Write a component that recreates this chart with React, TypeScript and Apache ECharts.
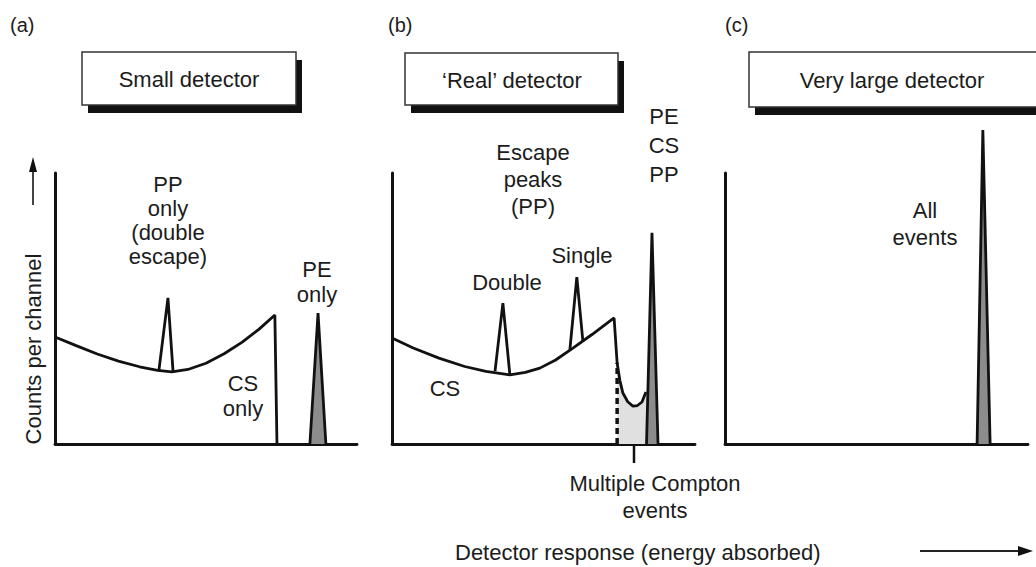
import React, { useEffect, useRef } from "react";
import * as echarts from "echarts";

// ---- Panel (a): small detector ----
const aCompton = [[0, 39.5], [7, 36.3], [14, 33.2], [21, 30.6], [28, 28.5], [34, 27.2], [38.7, 26.6], [44, 27.5], [50, 29.8], [56, 33.3], [62, 37.6], [67.5, 42.3], [72.8, 47.6], [73.5, 0]];
const aDoubleEscape = [[34.4, 27.1], [37.4, 53.9], [39.1, 26.6]];
const aPhotopeak = [[84.4, 0], [87.1, 48.3], [89.7, 0]];

// ---- Panel (b): 'real' detector ----
const bCompton = [[0, 39.1], [7, 35.4], [15.5, 31.7], [24, 28.6], [31, 26.8], [38.9, 25.5], [44, 26.4], [48.8, 28], [54, 31], [59.7, 35.4], [66, 40.4], [73.3, 46.5], [74.3, 29.9], [75.2, 23.5], [76.2, 18.8], [77.8, 15.6], [79.5, 14.0], [81, 14.2], [82.5, 15.5], [83.8, 19.2]];
const bMultiCompton = [[74.3, 29.9], [75.2, 23.5], [76.2, 18.8], [77.8, 15.6], [79.5, 14.0], [81, 14.2], [82.5, 15.5], [83.8, 19.2], [84.4, 22]];
const bComptonCut = [[74.3, 0], [74.3, 29.9]];
const bDoubleEscape = [[34, 26.9], [36.6, 52], [38.9, 25.5]];
const bSingleEscape = [[58.7, 34.7], [61, 61.6], [63, 37.9]];
const bPhotopeak = [[84, 0], [85.8, 77.9], [87.8, 0]];

// ---- Panel (c): very large detector ----
const cPhotopeak = [[83.2, 0], [85.1, 115.9], [87.5, 0]];

// ---- texts ----
const panelTags = ["(a)", "(b)", "(c)"];
const boxTitles = ["Small detector", "\u2018Real\u2019 detector", "Very large detector"];
const yTitle = "Counts per channel";
const xTitle = "Detector response (energy absorbed)";

const FONT = '"Liberation Sans", Arial, Helvetica, sans-serif';
const INK = "#1c1c1c";

const grids = [
  { left: 55, top: 173, width: 302, height: 271 },
  { left: 392, top: 173, width: 303, height: 271 },
  { left: 725, top: 173, width: 303, height: 271 },
];

function txt(x: number, y: number, text: string, o: any = {}) {
  return {
    type: "text",
    x,
    y,
    z: 10,
    rotation: o.rotation || 0,
    style: {
      text,
      fill: o.fill || INK,
      fontFamily: FONT,
      fontSize: o.size || 22,
      align: o.align || "center",
      verticalAlign: o.va || "middle",
      lineHeight: o.lh || 26,
    },
  };
}

function box(x: number, y: number, w: number, h: number, title: string, cx: number) {
  return [
    { type: "rect", z: 5, shape: { x: x + 6, y: y + 8, width: w, height: h }, style: { fill: "#111" } },
    { type: "rect", z: 6, shape: { x, y, width: w, height: h }, style: { fill: "#fff", stroke: "#333", lineWidth: 1.5 } },
    txt(cx, y + h / 2 + 1, title),
  ];
}

function lineSeries(data: number[][], idx: number, extra: any = {}) {
  return {
    type: "line",
    data,
    xAxisIndex: idx,
    yAxisIndex: idx,
    symbol: "none",
    smooth: false,
    silent: true,
    lineStyle: { color: "#111", width: 2.8 },
    ...extra,
  };
}

export default function App() {
  const ref = useRef<HTMLDivElement>(null);
  useEffect(() => {
    if (!ref.current) return;
    const chart = echarts.init(ref.current, null, { renderer: "svg" });
    const axisBase = {
      type: "value",
      min: 0,
      max: 100,
      axisTick: { show: false },
      axisLabel: { show: false },
      splitLine: { show: false },
    };
    const graphic: any[] = [
      txt(10, 25, panelTags[0], { align: "left", size: 20 }),
      txt(388, 25, panelTags[1], { align: "left", size: 20 }),
      txt(725, 25, panelTags[2], { align: "left", size: 20 }),
      ...box(82, 52, 214, 53, boxTitles[0], 189),
      ...box(405, 53, 213, 52, boxTitles[1], 512),
      ...box(749, 52, 290, 55, boxTitles[2], 892),
      // panel a labels
      txt(168, 172, "PP\nonly\n(double\nescape)", { va: "top", lh: 24 }),
      txt(317, 257, "PE\nonly", { va: "top", lh: 25 }),
      txt(243, 371, "CS\nonly", { va: "top", lh: 25 }),
      // panel b labels
      txt(533, 139, "Escape\npeaks\n(PP)", { va: "top", lh: 27 }),
      txt(664, 102, "PE\nCS\nPP", { va: "top", lh: 29 }),
      txt(507, 282, "Double"),
      txt(582, 255, "Single"),
      txt(445, 388, "CS"),
      txt(655, 470, "Multiple Compton\nevents", { va: "top", lh: 27 }),
      { type: "line", z: 10, shape: { x1: 634, y1: 444, x2: 634, y2: 463 }, style: { stroke: "#111", lineWidth: 2.5 } },
      // panel c labels
      txt(925, 197, "All\nevents", { va: "top", lh: 27 }),
      // y title and arrow
      txt(33, 349, yTitle, { rotation: Math.PI / 2 }),
      { type: "line", z: 10, shape: { x1: 33, y1: 205, x2: 33, y2: 168 }, style: { stroke: "#444", lineWidth: 2 } },
      { type: "polygon", z: 10, shape: { points: [[33, 157], [29, 172], [37, 172]] }, style: { fill: "#111" } },
      // x title and arrow
      txt(455, 552, xTitle, { align: "left" }),
      { type: "line", z: 10, shape: { x1: 920, y1: 551, x2: 1020, y2: 551 }, style: { stroke: "#222", lineWidth: 2 } },
      { type: "polygon", z: 10, shape: { points: [[1033, 551], [1018, 546], [1018, 556]] }, style: { fill: "#111" } },
    ];

    chart.setOption({
      animation: false,
      backgroundColor: "#fff",
      grid: grids.map((g) => ({ ...g, containLabel: false })),
      xAxis: grids.map((_, i) => ({
        ...axisBase,
        gridIndex: i,
        axisLine: { show: true, onZero: false, lineStyle: { color: "#111", width: 2.8 } },
      })),
      yAxis: grids.map((_, i) => ({
        ...axisBase,
        gridIndex: i,
        axisLine: { show: true, onZero: false, lineStyle: { color: "#111", width: 3 } },
      })),
      series: [
        lineSeries(aCompton, 0),
        lineSeries(aDoubleEscape, 0),
        lineSeries(aPhotopeak, 0, { areaStyle: { color: "#8c8c8c", opacity: 1 } }),
        lineSeries(bMultiCompton, 1, { lineStyle: { width: 0, opacity: 0 }, areaStyle: { color: "#e0e0e0", opacity: 1 }, z: 1 }),
        lineSeries(bCompton, 1),
        lineSeries(bComptonCut, 1, { lineStyle: { color: "#111", width: 3.5, type: [6, 4] } }),
        lineSeries(bDoubleEscape, 1),
        lineSeries(bSingleEscape, 1),
        lineSeries(bPhotopeak, 1, { areaStyle: { color: "#8c8c8c", opacity: 1 } }),
        lineSeries(cPhotopeak, 2, { clip: false, areaStyle: { color: "#8c8c8c", opacity: 1 } }),
      ],
      graphic,
    });
    return () => chart.dispose();
  }, []);
  return (
    <div
      ref={ref}
      style={{ position: "absolute", left: 0, top: 0, width: 1036, height: 567, background: "#fff" }}
    />
  );
}
